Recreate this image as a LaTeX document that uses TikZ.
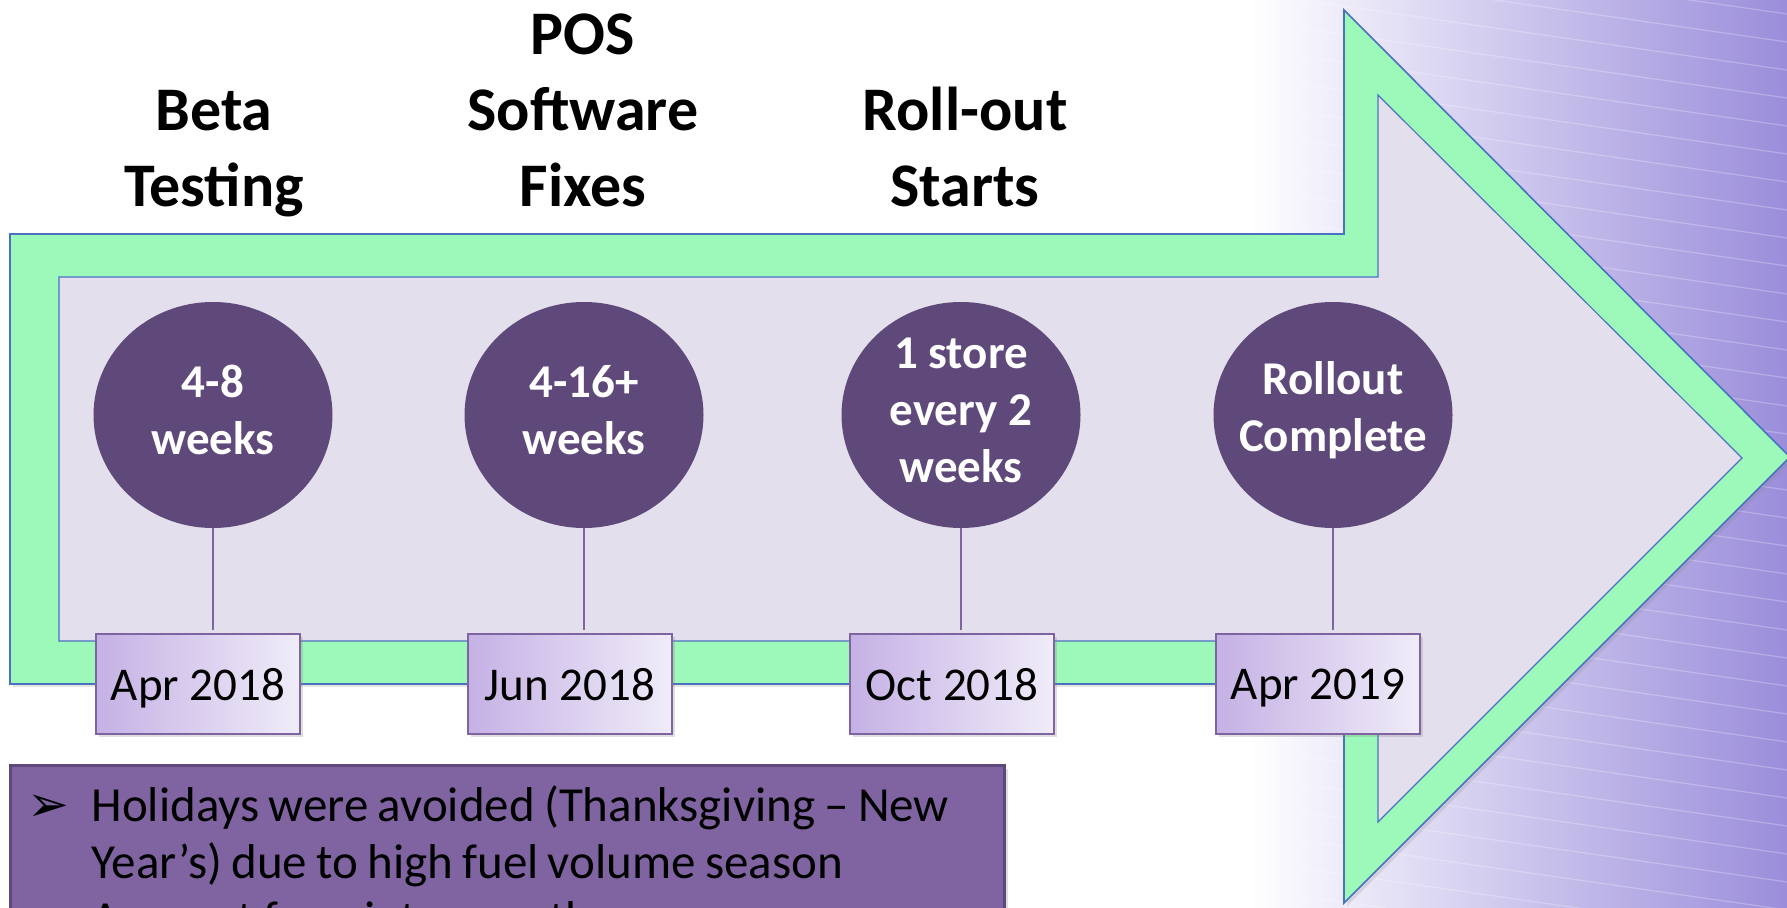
\documentclass[tikz,border=0pt]{standalone}
\usepackage{fontspec}
\setmainfont{Carlito}
\newfontfamily\dejavu{DejaVu Sans}
\usetikzlibrary{shapes.geometric,shadows}
\definecolor{arrowgreen}{HTML}{9CF9B9}
\definecolor{arrowedge}{HTML}{4A72C0}
\definecolor{innerfill}{HTML}{E4DFEC}
\definecolor{circfill}{HTML}{5F497A}
\definecolor{linkcol}{HTML}{8064A2}
\definecolor{dateleft}{HTML}{C5B1E5}
\definecolor{dateright}{HTML}{F0ECF9}
\definecolor{notefill}{HTML}{8064A2}
\definecolor{noteedge}{HTML}{5F497A}
\definecolor{bgmid}{HTML}{C9C1EE}
\definecolor{bgright}{HTML}{9B8DDB}
\newcommand{\bulletglyph}{{\dejavu\fontsize{25}{28.5}\selectfont ➢}}
\begin{document}
\begin{tikzpicture}[x=0.5pt,y=-0.5pt,
  heading/.style={font=\bfseries\fontsize{31}{38}\selectfont, align=center, anchor=base, inner sep=0pt},
  milestone/.style={ellipse, fill=circfill, minimum width=119.5pt, minimum height=113pt, inner sep=0pt},
  mtext/.style={text=white, font=\bfseries\fontsize{23.5}{28.5}\selectfont, align=center, inner sep=0pt, yshift=2.5pt},
  datebox/.style={rectangle, draw=linkcol, line width=1pt, left color=dateleft, right color=dateright,
    font=\fontsize{23.5}{28}\selectfont, minimum width=102pt, minimum height=50pt, inner sep=0pt, text depth=0pt,
    drop shadow={opacity=0.25, shadow xshift=1.5pt, shadow yshift=-1.5pt}},
  link/.style={draw=linkcol, line width=1pt},
  notebox/.style={rectangle, draw=noteedge, line width=1.5pt, fill=notefill, anchor=north west,
    inner xsep=8.5pt, inner ysep=8pt, text width=480pt, align=left,
    font=\fontsize{24.5}{28.5}\selectfont,
    drop shadow={opacity=0.25, shadow xshift=1.5pt, shadow yshift=-1.5pt}},
]
\useasboundingbox (0,0) rectangle (1787,908);
\clip (0,0) rectangle (1787,908);
% background
\fill[white] (0,0) rectangle (1787,908);
\shade[left color=white, middle color=bgmid, right color=bgright] (1250,0) rectangle (1787,908);
\foreach \i in {-4,...,32}
  \draw[white, opacity=0.25, line width=0.6pt] (1300,\i*28) -- (1787,\i*28+70);
% arrow
\draw[arrowedge, fill=arrowgreen, line width=0.8pt, drop shadow={opacity=0.2, shadow xshift=1.5pt, shadow yshift=-1.5pt}]
  (10,234) -- (1344,234) -- (1344,10) -- (1790,457) -- (1344,903) -- (1344,684) -- (10,684) -- cycle;
\draw[arrowedge, fill=innerfill, line width=0.6pt]
  (59,277) -- (1378,277) -- (1378,95) -- (1742,458) -- (1378,822) -- (1378,641) -- (59,641) -- cycle;
% headings
\node[heading] (h1) at (214,207) {Beta\\Testing};
\node[heading] (h2) at (583,207) {POS\\Software\\Fixes};
\node[heading] (h3) at (965,207) {Roll-out\\Starts};
% milestones
\node[milestone, label={[mtext]center:{4-8\\weeks}}] (c1) at (213,415) {};
\node[milestone, label={[mtext]center:{4-16+\\weeks}}] (c2) at (584,415) {};
\node[milestone, label={[mtext]center:{1 store\\every 2\\weeks}}] (c3) at (961,415) {};
\node[milestone, label={[mtext]center:{Rollout\\Complete}}] (c4) at (1333,415) {};
% dates
\node[datebox] (d1) at (198,684) {Apr 2018};
\node[datebox] (d2) at (570,684) {Jun 2018};
\node[datebox] (d3) at (952,684) {Oct 2018};
\node[datebox] (d4) at (1318,684) {Apr 2019};
% links
\draw[link] (c1.south) -- ([yshift=1.5pt]c1.south |- d1.north);
\draw[link] (c2.south) -- ([yshift=1.5pt]c2.south |- d2.north);
\draw[link] (c3.south) -- ([yshift=1.5pt]c3.south |- d3.north);
\draw[link] (c4.south) -- ([yshift=1.5pt]c4.south |- d4.north);
% note
\node[notebox] (note) at (9,764) {\spaceskip=4.6pt plus 2pt\relax
\begin{tabular}{@{}p{32pt}@{}l@{}}
\bulletglyph & Holidays were avoided (Thanksgiving – New\\
 & Year’s) due to high fuel volume season\\
\bulletglyph & Account for winter weather
\end{tabular}};
\end{tikzpicture}
\end{document}
